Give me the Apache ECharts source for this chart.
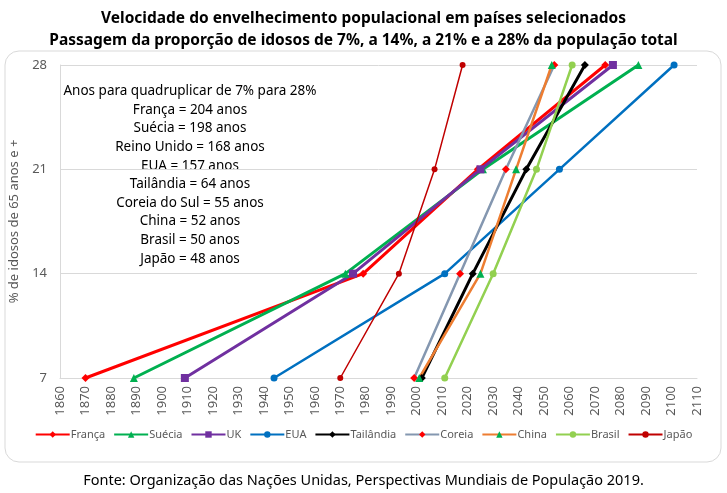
<!DOCTYPE html>
<html lang="pt">
<head>
<meta charset="UTF-8">
<title>Velocidade do envelhecimento populacional</title>
<script src="https://cdn.jsdelivr.net/npm/echarts@6/dist/echarts.min.js"></script>
<style>
	html,body{margin:0;padding:0;background:#fff;}
	#chart{width:727px;height:493px;}
</style>
</head>
<body>
<div id="chart"></div>
<script>
	// anos em que cada país atinge 7%, 14%, 21% e 28%
	var levels = [7, 14, 21, 28];
	var franca = [1870, 1979, 2024, 2074];
	var suecia = [1889, 1972, 2026, 2087];
	var uk = [1909, 1975, 2025, 2077];
	var eua = [1944, 2011, 2056, 2101];
	var tailandia = [2002, 2022, 2043, 2066];
	var coreia = [1999, 2017, 2035, 2054];
	var china = [2001, 2025, 2039, 2053];
	var brasil = [2011, 2030, 2047, 2061];
	var japao = [1970, 1993, 2007, 2018];

	var notas = [
		'Anos para quadruplicar de 7% para 28%',
		'França = 204 anos',
		'Suécia = 198 anos',
		'Reino Unido = 168 anos',
		'EUA = 157 anos',
		'Tailândia = 64 anos',
		'Coreia do Sul = 55 anos',
		'China = 52 anos',
		'Brasil = 50 anos',
		'Japão = 48 anos'
	];

	var fonte = 'Noto Sans';

	function pts(anos){
		var out = [];
		for(var i=0;i<anos.length;i++){
			out.push([anos[i], levels[i]]);
		}
		return out;
	}

	//serie de linha
	function serie(nome, anos, corLinha, corMarca, simbolo, tam, larg){
		return {
			name: nome,
			type: 'line',
			data: pts(anos),
			symbol: simbolo,
			symbolSize: tam,
			showAllSymbol: true,
			lineStyle: {color: corLinha, width: larg},
			itemStyle: {color: corMarca},
			emphasis: {disabled: true}
		};
	}

	var myChart = echarts.init(document.getElementById('chart'));
	var option = {
		backgroundColor: '#fff',
		animation: false,
		textStyle: {fontFamily: fonte},
		title: [{
			text: 'Velocidade do envelhecimento populacional em países selecionados\nPassagem da proporção de idosos de 7%, a 14%, a 21% e a 28% da população total',
			left: 'center',
			top: 3,
			textStyle: {fontSize: 15.5, fontWeight: 'bold', color: '#000', lineHeight: 22, fontFamily: fonte}
		}, {
			text: 'Fonte: Organização das Nações Unidas, Perspectivas Mundiais de População 2019.',
			left: 'center',
			top: 468,
			textStyle: {fontSize: 14.5, fontWeight: 'normal', color: '#000', fontFamily: fonte}
		}],
		graphic: [{
			type: 'rect',
			shape: {x: 5, y: 51, width: 716, height: 411, r: 14},
			style: {fill: 'none', stroke: '#d9d9d9', lineWidth: 1},
			z: -1
		}, {
			type: 'text',
			x: 190,
			y: 82,
			style: {
				text: notas.join('\n'),
				align: 'center',
				fontSize: 13.5,
				lineHeight: 18.6,
				fill: '#000',
				fontFamily: fonte
			}
		}],
		legend: {
			bottom: 48,
			left: 'center',
			itemWidth: 34,
			itemHeight: 8,
			itemGap: 8,
			textStyle: {fontSize: 11, color: '#595959', padding: [0, 0, 0, -4]},
			data: ['França','Suécia','UK','EUA','Tailândia','Coreia','China','Brasil','Japão']
		},
		grid: {left: 60, right: 30, top: 65, bottom: 115},
		xAxis: {
			type: 'value',
			min: 1860,
			max: 2110,
			interval: 10,
			axisLine: {show: true, lineStyle: {color: '#d9d9d9'}},
			axisTick: {show: false},
			splitLine: {show: false},
			axisLabel: {rotate: 90, color: '#595959', fontSize: 13, margin: 8,
				formatter: function(v){ return String(v); }}
		},
		yAxis: {
			type: 'value',
			min: 7,
			max: 28,
			interval: 7,
			name: '% de idosos de 65 anos e +',
			nameLocation: 'middle',
			nameGap: 36,
			nameTextStyle: {color: '#595959', fontSize: 13},
			axisLine: {show: true, lineStyle: {color: '#d9d9d9'}},
			axisTick: {show: false},
			splitLine: {lineStyle: {color: '#d9d9d9'}},
			axisLabel: {color: '#595959', fontSize: 13, margin: 13}
		},
		series: [
			serie('França', franca, '#ff0000', '#ff0000', 'diamond', 8, 3),
			serie('Suécia', suecia, '#00b050', '#00b050', 'triangle', 8, 3),
			serie('UK', uk, '#7030a0', '#7030a0', 'rect', 8, 3),
			serie('EUA', eua, '#0070c0', '#0070c0', 'circle', 7, 2.5),
			serie('Tailândia', tailandia, '#000000', '#000000', 'diamond', 8, 3),
			serie('Coreia', coreia, '#8497b0', '#ff0000', 'diamond', 8, 2.5),
			serie('China', china, '#ed7d31', '#00b050', 'triangle', 8, 2.5),
			serie('Brasil', brasil, '#92d050', '#92d050', 'circle', 7, 2.5),
			serie('Japão', japao, '#c00000', '#c00000', 'circle', 6, 1.5)
		]
	};
	myChart.setOption(option);
</script>
</body>
</html>
